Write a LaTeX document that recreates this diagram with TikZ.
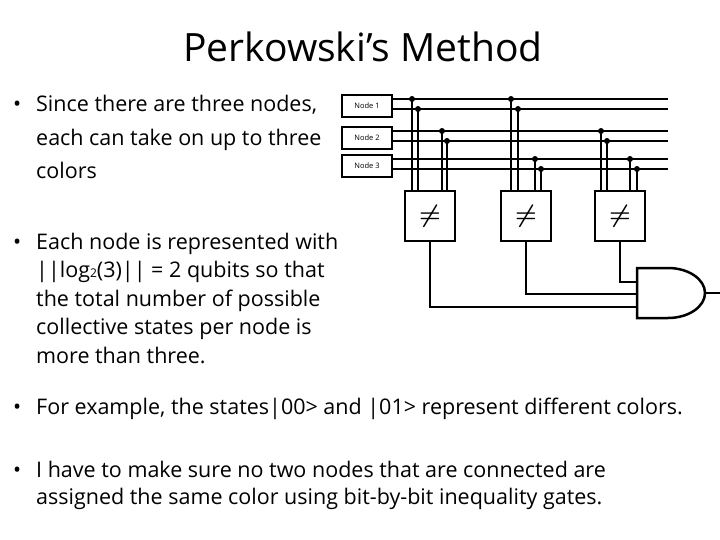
\documentclass[tikz,border=0pt]{standalone}
\usepackage{fontspec}
\setmainfont{Open Sans}
\usetikzlibrary{positioning}
\tikzset{%
  nodebox/.style={%
    rectangle,
    draw,
    line width=2.5pt,
    minimum width=50pt,
    minimum height=22pt,
    font={\fontsize{7.5}{9}\selectfont},
    inner sep=0pt%
  },
  neqgate/.style={%
    rectangle,
    draw,
    line width=2.5pt,
    minimum width=50pt,
    minimum height=50pt,
    font={\fontsize{30}{30}\selectfont\boldmath},
    inner sep=0pt%
  },
  wire/.style={%
    line width=2.5pt,
    line join=miter%
  },
  tap/.style={%
    circle,
    fill,
    inner sep=0pt,
    minimum size=6pt%
  },
  bullet/.style={%
    anchor=base west,
    align=left,
    inner sep=0pt%
  }
}

\begin{document}
\begin{tikzpicture}[x=1pt, y=-1pt]
  \useasboundingbox (0,0) rectangle (720,540);

  % title and text
  \node [font={\fontsize{39}{39}\selectfont}] (Title) at (363,47) {Perkowski’s Method};
  \node [bullet, font={\fontsize{21.5}{33.5}\selectfont}] (TextA) at (13,179)
    {\makebox[23pt][l]{•}Since there are three nodes,\\
     \hspace*{23pt}each can take on up to three\\
     \hspace*{23pt}colors};
  \node [bullet, font={\fontsize{21.5}{28.5}\selectfont}] (TextB) at (13,363)
    {\makebox[23pt][l]{•}Each node is represented with\\
     \hspace*{23pt}||log{\fontsize{12}{12}\selectfont 2}(3)|| = 2 qubits so that\\
     \hspace*{23pt}the total number of possible\\
     \hspace*{23pt}collective states per node is\\
     \hspace*{23pt}more than three.};
  \node [bullet, font={\fontsize{21.5}{28}\selectfont}] (TextC) at (13,414)
    {\makebox[23pt][l]{•}For example, the states|00> and |01> represent different colors.};
  \node [bullet, font={\fontsize{21.5}{27}\selectfont}] (TextD) at (13,504)
    {\makebox[23pt][l]{•}I have to make sure no two nodes that are connected are\\
     \hspace*{23pt}assigned the same color using bit-by-bit inequality gates.};

  % node boxes and wires
  \node [nodebox] (Node1) at (367,106) {Node 1};
  \node [nodebox] (Node2) at (367,138) {Node 2};
  \node [nodebox] (Node3) at (367,166) {Node 3};
  \foreach \y/\n in {99/a, 109/b, 131/c, 141/d, 159/e, 169/f} {
    \coordinate (W\n) at (668,\y);
    \draw [wire] (Node1.east |- 0,\y) -- (W\n);
  }

  % inequality gates
  \node [neqgate] (Neq1) at (430,216) {$\neq$};
  \node [neqgate] (Neq2) at (526,216) {$\neq$};
  \node [neqgate] (Neq3) at (620,216) {$\neq$};
  \foreach \g/\xs/\ws in {Neq1/{412,418,442,447}/{a,b,c,d},
                          Neq2/{511,518,535,541}/{a,b,e,f},
                          Neq3/{601,607,630,637}/{c,d,e,f}} {
    \foreach \x [count=\i] in \xs {
      \foreach \w [count=\j] in \ws {
        \ifnum\i=\j
          \draw [wire] (\x,0 |- W\w) node [tap] {} -- (\x,0 |- \g.north);
        \fi
      }
    }
  }

  % and gate
  \coordinate (AndTop) at (637,268);
  \coordinate (AndBot) at (637,318);
  \draw [wire] (AndTop) -- (AndBot) -- (668,318)
    arc [start angle=-90, end angle=90, x radius=37, y radius=-25] -- cycle;
  \coordinate (AndOut) at (720,293);
  \draw [wire] (705,293) -- (AndOut);
  \draw [wire] (Neq1.south) |- (AndBot |- 0,307);
  \draw [wire] (Neq2.south) |- (AndBot |- 0,294);
  \draw [wire] (Neq3.south) |- (AndBot |- 0,282);
\end{tikzpicture}
\end{document}
